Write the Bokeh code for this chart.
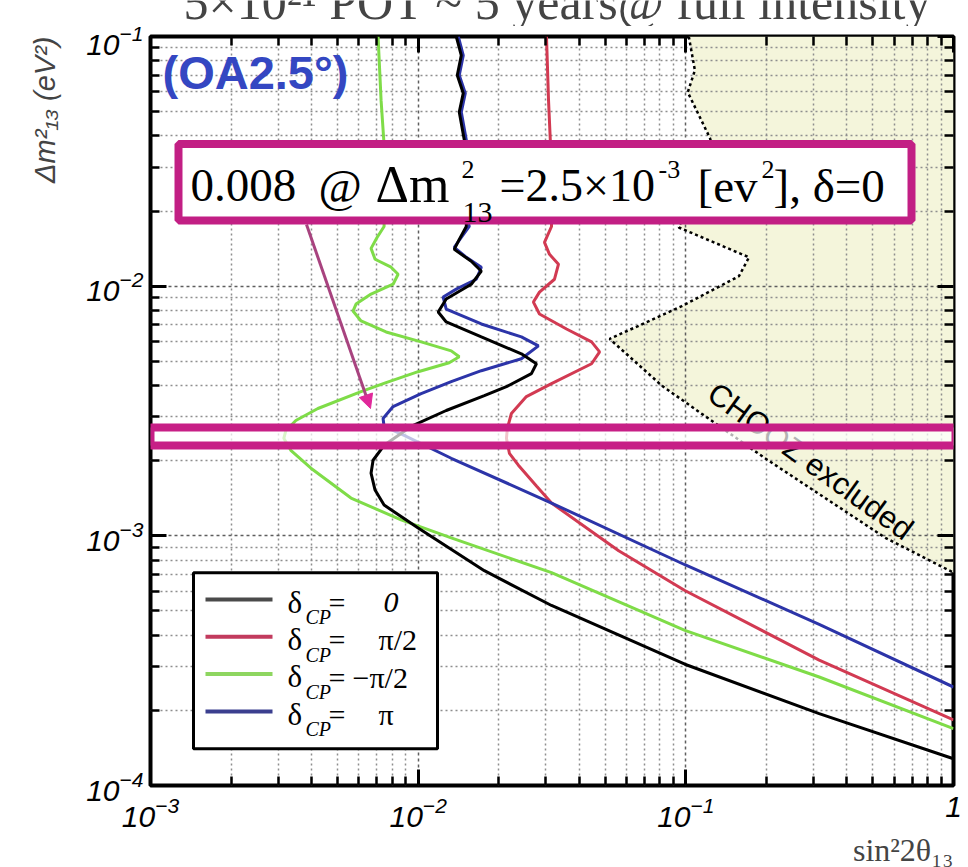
from math import pi

from bokeh.embed import file_html
from bokeh.layouts import column
from bokeh.models import (Arrow, BoxAnnotation, CustomJSTickFormatter, FixedTicker,
                          Label, LogAxis, NormalHead, Range1d, Title)
from bokeh.plotting import figure
from bokeh.resources import INLINE

# ---- sensitivity contours: sin^2(2 theta13) versus dm^2_13 [eV^2] ----
dcp0_sin2 = [0.01388, 0.01449, 0.01400, 0.01474, 0.01424, 0.01487, 0.01513, 0.01513, 0.01424,
             0.01364, 0.01579, 0.01722, 0.01579, 0.01273, 0.01188, 0.01273, 0.01722, 0.02430,
             0.02766, 0.02649, 0.02137, 0.01767, 0.01273, 0.009414, 0.007459, 0.006785,
             0.006668, 0.006902, 0.007459, 0.0100, 0.01767, 0.03149, 0.09915, 0.3149, 1.0]
dcp0_dm2 = [0.1, 0.0840, 0.0699, 0.0593, 0.0498, 0.03853, 0.01884, 0.01734, 0.01539, 0.01404,
            0.01259, 0.01148, 0.01018, 0.008877, 0.007877, 0.007187, 0.006261, 0.005359,
            0.004889, 0.004461, 0.003958, 0.003645, 0.003177, 0.002742, 0.002304, 0.002008,
            0.001782, 0.001525, 0.001328, 0.001076, 0.000725, 0.000526, 0.000306, 0.000194,
            0.000128]

dcp_half_pi_sin2 = [0.03016, 0.03069, 0.03122, 0.03149, 0.03149, 0.02964, 0.03095, 0.03344,
                    0.03231, 0.02839, 0.02695, 0.02839, 0.03583, 0.04445, 0.04763, 0.04445,
                    0.03149, 0.02537, 0.02230, 0.02154, 0.02137, 0.02192, 0.02368, 0.02766,
                    0.03149, 0.05612, 0.09915, 0.3149, 1.0]
dcp_half_pi_dm2 = [0.1, 0.0556, 0.03679, 0.01884, 0.01734, 0.01497, 0.01341, 0.01225, 0.01066,
                   0.009465, 0.008636, 0.007734, 0.006739, 0.005981, 0.005458, 0.004889,
                   0.004069, 0.003612, 0.003090, 0.002692, 0.002457, 0.002141, 0.001918,
                   0.001582, 0.001353, 0.000871, 0.000604, 0.000318, 0.000183]

dcp_minus_half_pi_sin2 = [0.007083, 0.007268, 0.007459, 0.007459, 0.007459, 0.007021, 0.006668,
                          0.006902, 0.007922, 0.008415, 0.008060, 0.006668, 0.005859, 0.005710,
                          0.006117, 0.007587, 0.01026, 0.01329, 0.01424, 0.01306, 0.0100,
                          0.007587, 0.006117, 0.004221, 0.003492, 0.003206, 0.003148, 0.003344,
                          0.003976, 0.005612, 0.008636, 0.01329, 0.03149, 0.09915, 0.3149, 1.0]
dcp_minus_half_pi_dm2 = [0.1, 0.0556, 0.03679, 0.01884, 0.01734, 0.01567, 0.01417, 0.01282,
                         0.01191, 0.01116, 0.01018, 0.009293, 0.008479, 0.007950, 0.007254,
                         0.006555, 0.005981, 0.005508, 0.005213, 0.004934, 0.004544, 0.004106,
                         0.003781, 0.003236, 0.002898, 0.002643, 0.002457, 0.002201, 0.001866,
                         0.001417, 0.001158, 0.000982, 0.000712, 0.000418, 0.000272, 0.000169]

dcp_pi_sin2 = [0.01412, 0.01474, 0.01424, 0.01500, 0.01449, 0.01513, 0.01526, 0.01552, 0.01449,
               0.01364, 0.01513, 0.01722, 0.01649, 0.01388, 0.01240, 0.01273, 0.01722, 0.02430,
               0.02814, 0.02430, 0.01722, 0.01329, 0.01026, 0.008060, 0.007394, 0.007459,
               0.008863, 0.01329, 0.03149, 0.09915, 0.3149, 1.0]
dcp_pi_dm2 = [0.1, 0.0840, 0.0699, 0.0593, 0.0498, 0.03853, 0.01884, 0.01734, 0.01567, 0.01430,
              0.01305, 0.01191, 0.01066, 0.009728, 0.009042, 0.008098, 0.007056, 0.006261,
              0.005768, 0.005118, 0.004586, 0.004144, 0.003712, 0.003295, 0.002952, 0.002742,
              0.002526, 0.002045, 0.001353, 0.000766, 0.000442, 0.000248]

# CHOOZ exclusion boundary (excluded to the right)
chooz_sin2 = [0.1026, 0.1081, 0.1017, 0.1230, 0.1251, 0.09415, 0.1722, 0.1579, 0.09661,
              0.05193, 0.08130, 0.1976, 0.5563, 1.0]
chooz_dm2 = [0.1, 0.0732, 0.0598, 0.03924, 0.03679, 0.01718, 0.01305, 0.01096, 0.008320,
             0.006147, 0.003995, 0.002045, 0.000982, 0.000712]

# highlighted working point
best_sin2 = 0.008
best_dm2 = 2.5e-3

legend_values = ["0", "\u03c0/2", "\u2212\u03c0/2", "\u03c0"]

x_major = [1e-3, 1e-2, 1e-1, 1.0]
y_major = [1e-4, 1e-3, 1e-2, 1e-1]

# ---- layout helpers ----
X_LO, X_HI = 1e-3, 1.0
Y_LO, Y_HI = 1e-4, 1e-1
FRAME_W, FRAME_H = 803, 753
LIFT = 0.3  # alphabetic labels come out a little low in svg, lift by this many ems


def fxp(dx):
    """data x located dx pixels right of the frame's left edge"""
    return X_LO * (X_HI / X_LO) ** (dx / FRAME_W)


def fyp(dy):
    """data y located dy pixels above the frame's bottom edge"""
    return Y_LO * (Y_HI / Y_LO) ** (dy / FRAME_H)


def yshift(y, dy):
    return y * (Y_HI / Y_LO) ** (dy / FRAME_H)


# ---- slide heading strip ----
HEAD_H = 26
head = figure(width=968, height=HEAD_H, x_range=Range1d(0, 1), y_range=Range1d(0, 1),
              x_axis_type=None, y_axis_type=None, output_backend="svg", toolbar_location=None,
              min_border_left=150, min_border_right=15, min_border_top=0, min_border_bottom=0,
              outline_line_color=None, background_fill_color="white",
              border_fill_color="white")
head.xgrid.visible = False
head.ygrid.visible = False
head.add_layout(Label(x=33 / FRAME_W, y=(HEAD_H - 16 + LIFT * 50) / HEAD_H,
                      text="5\u00d710\u00b2\u00b9 POT ~ 5 years@ full intensity",
                      text_font="Liberation Serif", text_font_size="50px",
                      text_baseline="alphabetic"))

# ---- main chart ----
p = figure(width=968, height=867 - HEAD_H, x_axis_type="log", y_axis_type="log",
           x_range=Range1d(X_LO, X_HI), y_range=Range1d(Y_LO, Y_HI),
           output_backend="svg", toolbar_location=None,
           min_border_left=150, min_border_right=15, min_border_top=10, min_border_bottom=78,
           background_fill_color="white", border_fill_color="white")
p.outline_line_color = "black"
p.outline_line_width = 4

top_axis = LogAxis()
right_axis = LogAxis()
p.add_layout(top_axis, "above")
p.add_layout(right_axis, "right")

x_minor = [k * d for d in x_major[:-1] for k in range(2, 10)]
y_minor = [k * d for d in y_major[:-1] for k in range(2, 10)]
xt = FixedTicker(ticks=x_major, minor_ticks=x_minor)
yt = FixedTicker(ticks=y_major, minor_ticks=y_minor)
for ax in p.xaxis:
    ax.ticker = xt
for ax in p.yaxis:
    ax.ticker = yt
for ax in list(p.xaxis) + list(p.yaxis):
    ax.axis_line_color = None
    ax.major_tick_in = 16
    ax.major_tick_out = 0
    ax.minor_tick_in = 9
    ax.minor_tick_out = 0
    ax.major_tick_line_width = 3
    ax.minor_tick_line_width = 2.5
    ax.major_tick_line_color = "black"
    ax.minor_tick_line_color = "black"
    ax.major_label_text_font = "Liberation Sans"
    ax.major_label_text_font_style = "italic"
    ax.major_label_text_font_size = "30px"
    ax.major_label_text_color = "black"
for ax in (top_axis, right_axis):
    ax.formatter = CustomJSTickFormatter(code="return ''")
    ax.major_label_text_font_size = "1px"
    ax.major_label_standoff = 0
bottom_axis = p.below[0]
left_axis = p.left[0]
bottom_axis.major_label_standoff = 11
left_axis.major_label_standoff = 7
bottom_axis.major_label_overrides = {1.0: "1"}

p.xgrid.ticker = xt
p.ygrid.ticker = yt
for g in (p.xgrid, p.ygrid):
    g.grid_line_color = "#5e5e5e"
    g.grid_line_dash = "3 3"
    g.grid_line_width = 1.5
    g.minor_grid_line_color = "#8e8e8e"
    g.minor_grid_line_dash = "2 3"
    g.minor_grid_line_width = 1.5

# axis titles
p.add_layout(Title(text="\u0394m\u00b2\u2081\u2083 (eV\u00b2)", align="right",
                   text_font="Liberation Sans", text_font_style="italic",
                   text_font_size="29px", standoff=45), "left")
p.add_layout(Title(text="sin\u00b22\u03b8\u2081\u2083", align="right",
                   text_font="Liberation Serif", text_font_style="normal",
                   text_font_size="32px", standoff=0), "below")

# CHOOZ excluded region
p.patch(chooz_sin2 + [1.0], chooz_dm2 + [0.1], fill_color="#f4f5db", line_color=None,
        level="image")
p.line(chooz_sin2, chooz_dm2, line_color="black", line_width=2.5, line_dash="3 3")

# sensitivity curves
p.line(dcp_minus_half_pi_sin2, dcp_minus_half_pi_dm2, line_color="#7fdc48", line_width=3)
p.line(dcp_half_pi_sin2, dcp_half_pi_dm2, line_color="#d23a52", line_width=3)
p.line(dcp_pi_sin2, dcp_pi_dm2, line_color="#2c34a8", line_width=3)
p.line(dcp0_sin2, dcp0_dm2, line_color="black", line_width=3)


def lab(x, y, text, size, font="Liberation Serif", style="normal", color="black",
        align="left", baseline="alphabetic", angle=0.0):
    if baseline == "alphabetic":
        y = yshift(y, LIFT * size)
    p.add_layout(Label(x=x, y=y, text=text, text_font=font, text_font_size=f"{size}px",
                       text_font_style=style, text_color=color, text_align=align,
                       text_baseline=baseline, angle=angle))


# CHOOZ label along the boundary
lab(fxp(660), fyp(326), "CHOOZ excluded", 31, font="Liberation Sans", align="center",
    baseline="middle", angle=-0.625)

# band marking dm^2 = 2.5e-3
p.add_layout(BoxAnnotation(left=X_LO, right=fxp(805), bottom=yshift(best_dm2, -9),
                           top=yshift(best_dm2, 9), fill_color="white", fill_alpha=0.7,
                           line_color="#c71f86", line_alpha=1.0, line_width=8,
                           level="annotation"))

# arrow from the callout to the curve
p.add_layout(Arrow(x_start=fxp(156), y_start=fyp(564), x_end=fxp(220), y_end=fyp(379),
                   line_color="#a8437f", line_width=3,
                   end=NormalHead(size=14, fill_color="#e0289a", line_color="#e0289a")))

# callout box
p.add_layout(BoxAnnotation(left=fxp(28), right=fxp(761), bottom=fyp(568), top=fyp(645),
                           fill_color="white", fill_alpha=1.0, line_color="#c21f84",
                           line_alpha=1.0, line_width=8, level="annotation"))
lab(fxp(40), fyp(589), f"{best_sin2:.3f}", 47)
lab(fxp(168), fyp(589), "@", 47)
lab(fxp(225), fyp(589), "\u0394m", 52)
lab(fxp(311), fyp(611), "2", 26)
lab(fxp(312), fyp(567), "13", 30)
lab(fxp(349), fyp(589), "=2.5\u00d710", 46)
lab(fxp(508), fyp(611), "-3", 26)
lab(fxp(547), fyp(589), "[ev", 47)
lab(fxp(611), fyp(611), "2", 26)
lab(fxp(623), fyp(589), "], \u03b4=0", 47)

# off-axis angle tag
lab(fxp(12), fyp(703), "(OA2.5\u00b0)", 47, font="Liberation Sans", style="bold",
    color="#3447c2")

# legend
p.add_layout(BoxAnnotation(left=fxp(43), right=fxp(287), bottom=fyp(37), top=fyp(214),
                           fill_color="white", fill_alpha=1.0, line_color="black",
                           line_alpha=1.0, line_width=3, level="annotation"))
legend_colors = ["#4a4a4a", "#c23b5e", "#8ed660", "#3b3f8f"]
value_dx = [233, 228, 202, 228]
for i, (val, col) in enumerate(zip(legend_values, legend_colors)):
    row = 187 - 37.5 * i
    p.add_layout(Arrow(x_start=fxp(55), y_start=fyp(row), x_end=fxp(122), y_end=fyp(row),
                       line_color=col, line_width=4, end=None))
    lab(fxp(137), fyp(row - 12), "\u03b4", 31)
    lab(fxp(155), fyp(row - 24), "CP", 20, style="italic")
    lab(fxp(178), fyp(row - 12), "=", 30)
    lab(fxp(value_dx[i]), fyp(row - 12), val, 30, style="italic" if val == "0" else "normal")

open("out.html", "w").write(file_html(column(head, p, spacing=0), INLINE))
